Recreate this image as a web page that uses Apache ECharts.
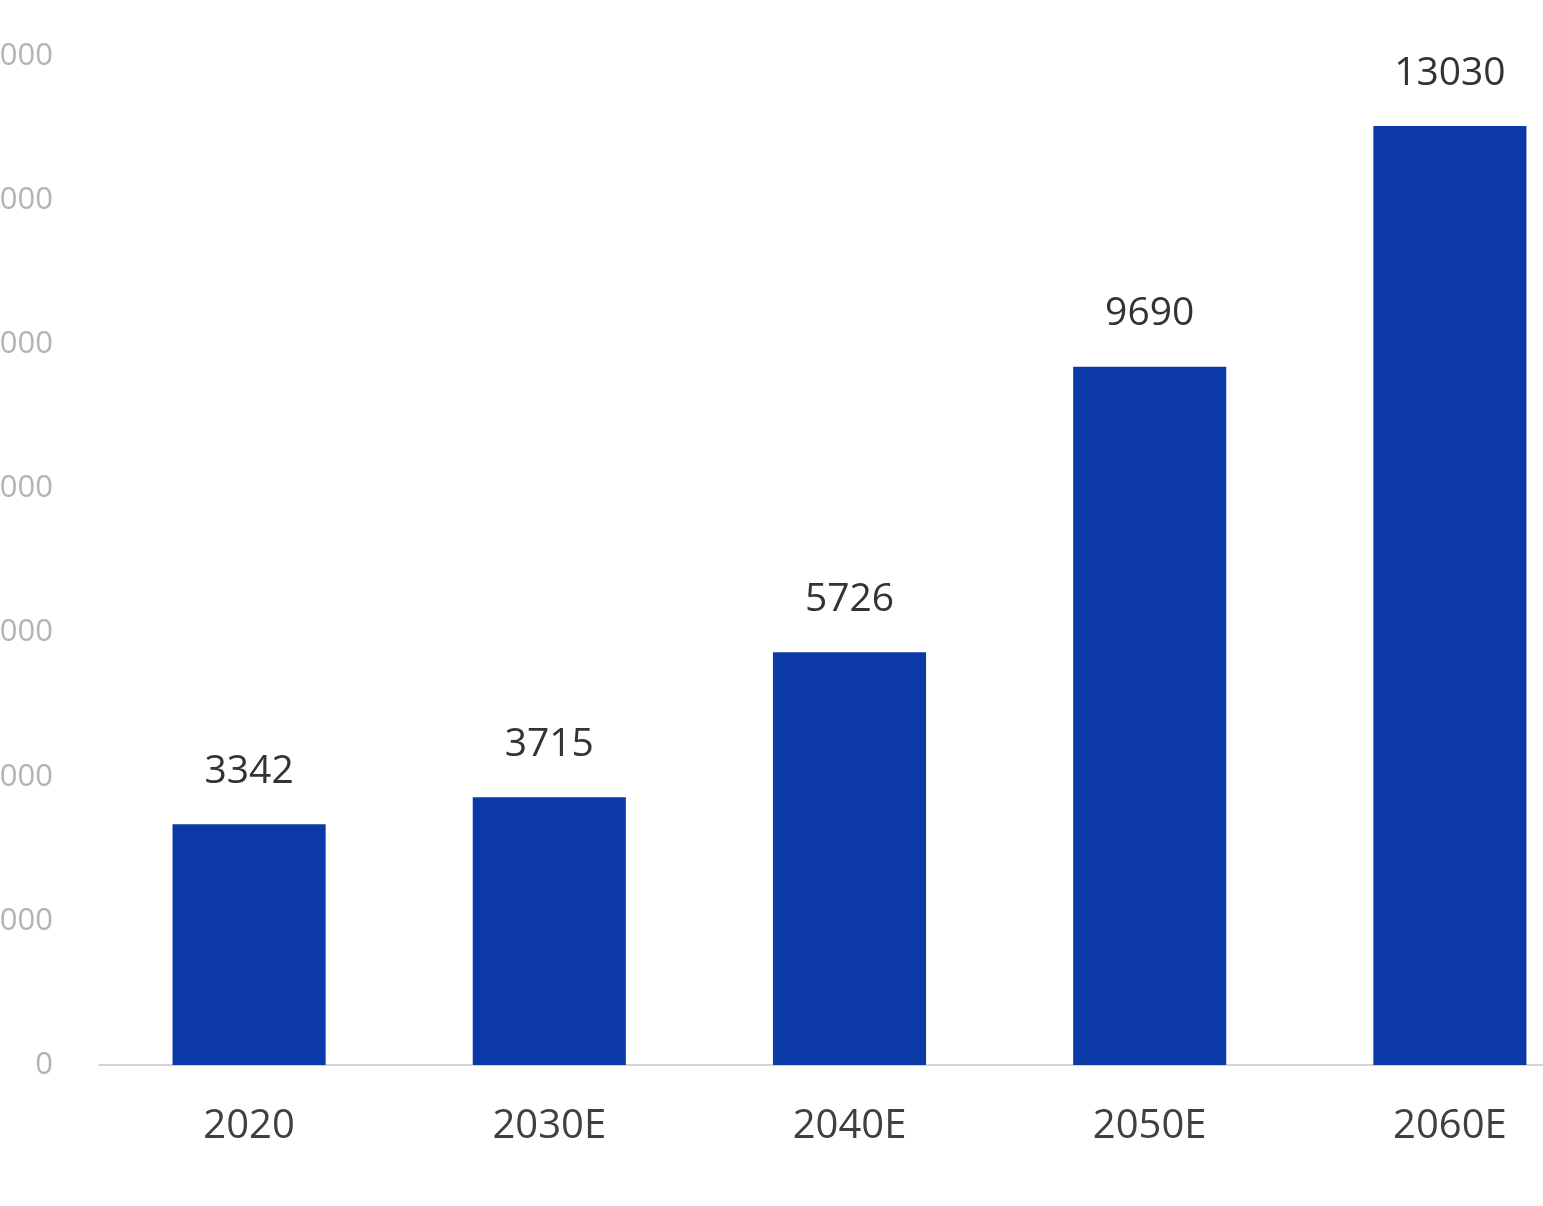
<!DOCTYPE html>
<html><head><meta charset="utf-8">
<script src="https://cdn.jsdelivr.net/npm/echarts@6/dist/echarts.min.js"></script>
<style>html,body{margin:0;padding:0;background:#fff}#c{width:1543px;height:1206px}</style>
</head><body><div id="c"></div>
<script>
const categories = ['2020', '2030E', '2040E', '2050E', '2060E'];
const values = [3342, 3715, 5726, 9690, 13030];
const yMax = 14000;
const yInterval = 2000;

const chart = echarts.init(document.getElementById('c'));
chart.setOption({
  animation: false,
  backgroundColor: '#ffffff',
  grid: { left: 99, right: -57, top: 56, bottom: 141, containLabel: false, outerBoundsMode: 'none' },
  xAxis: {
    type: 'category',
    data: categories,
    axisLine: { show: true, lineStyle: { color: '#d4d4d4', width: 2 } },
    axisTick: { show: false },
    axisLabel: { color: '#404040', fontSize: 40, fontFamily: 'Open Sans', margin: 42 }
  },
  yAxis: {
    type: 'value',
    min: 0, max: yMax, interval: yInterval,
    axisLine: { show: false },
    axisTick: { show: false },
    splitLine: { show: false },
    axisLabel: { color: '#b4b4b4', fontSize: 31, fontFamily: 'Open Sans', margin: 46, formatter: v => String(v) }
  },
  series: [{
    type: 'bar',
    data: values,
    barWidth: '51%',
    itemStyle: { color: '#0b3aa8' },
    label: { show: true, position: 'top', distance: 33, color: '#333333', fontSize: 39, fontFamily: 'Open Sans' }
  }]
});
</script></body></html>
